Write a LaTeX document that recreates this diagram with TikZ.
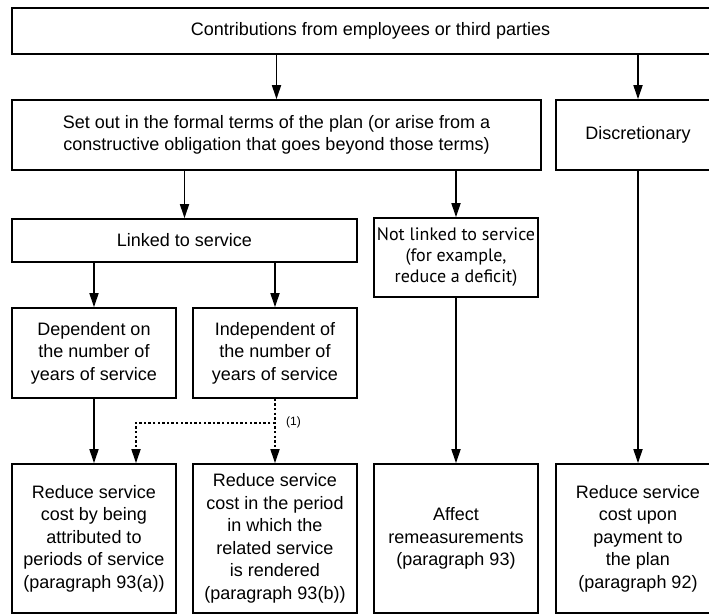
\documentclass[tikz,border=0pt]{standalone}
\usepackage{fontspec}
\setmainfont{Liberation Sans}
\newfontfamily\condfont{PT Sans}
\usetikzlibrary{arrows.meta}

\begin{document}
\begin{tikzpicture}[x=1pt,y=-1pt,
	box/.style={draw, line width=1.7pt, align=center, inner sep=0pt, font=\fontsize{18}{22.5}\selectfont},
	narrowbox/.style={box, minimum width=164pt},
	arr/.style={line width=1.7pt, -{Triangle[length=14pt,width=9pt]}},
	dotarr/.style={arr, dash pattern=on 2.4pt off 2.2pt}]
	\useasboundingbox (0,0) rectangle (709,614);
	\clip (0,0) rectangle (709,614);
	% top rows
	\node[box, minimum width=717pt, minimum height=46pt] (contrib) at (370.5,31) {Contributions from employees or third parties};
	\node[box, minimum width=529pt, minimum height=70pt] (formal) at (276.5,135) {Set out in the formal terms of the plan (or arise from a\\constructive obligation that goes beyond those terms)};
	\node[narrowbox, minimum height=70pt] (discr) at (638,135) {Discretionary};
	\node[box, minimum width=345pt, minimum height=43pt] (linked) at (184.5,240.5) {Linked to service};
	\node[narrowbox, minimum height=79pt, font=\condfont\fontsize{18}{21}\selectfont] (notlinked) at (456,257.5) {Not linked to service\\(for example,\\reduce a deficit)};
	\node[narrowbox, minimum height=90pt] (dep) at (94,353) {Dependent on\\the number of\\years of service};
	\node[narrowbox, minimum height=90pt] (indep) at (275,353) {Independent of\\the number of\\years of service};
	% bottom row
	\node[narrowbox, minimum height=149pt] (attrib) at (94,538.5) {Reduce service\\cost by being\\attributed to\\periods of service\\(paragraph 93(a))};
	\node[narrowbox, minimum height=149pt] (rendered) at (275,538.5) {Reduce service\\cost in the period\\in which the\\related service\\is rendered\\(paragraph 93(b))};
	\node[narrowbox, minimum height=149pt] (remeas) at (456,538.5) {Affect\\remeasurements\\(paragraph 93)};
	\node[narrowbox, minimum height=149pt] (payment) at (638,538.5) {Reduce service\\cost upon\\payment to\\the plan\\(paragraph 92)};
	% connectors
	\draw[arr] (formal.north |- contrib.south) -- (formal.north);
	\draw[arr] (discr.north |- contrib.south) -- (discr.north);
	\draw[arr] (linked.north |- formal.south) -- (linked.north);
	\draw[arr] (notlinked.north |- formal.south) -- (notlinked.north);
	\draw[arr] (dep.north |- linked.south) -- (dep.north);
	\draw[arr] (indep.north |- linked.south) -- (indep.north);
	\draw[arr] (dep.south) -- (attrib.north);
	\draw[arr] (notlinked.south) -- (remeas.north);
	\draw[arr] (discr.south) -- (payment.north);
	\path (indep.south) ++(0,24) coordinate (split);
	\draw[dotarr] (indep.south) -- (rendered.north);
	\draw[dotarr] (split) -| ([xshift=42pt]attrib.north);
	\node[anchor=west, inner sep=0pt, font=\fontsize{12}{14}\selectfont] (note) at ([xshift=11pt]split) {(1)};
\end{tikzpicture}
\end{document}
